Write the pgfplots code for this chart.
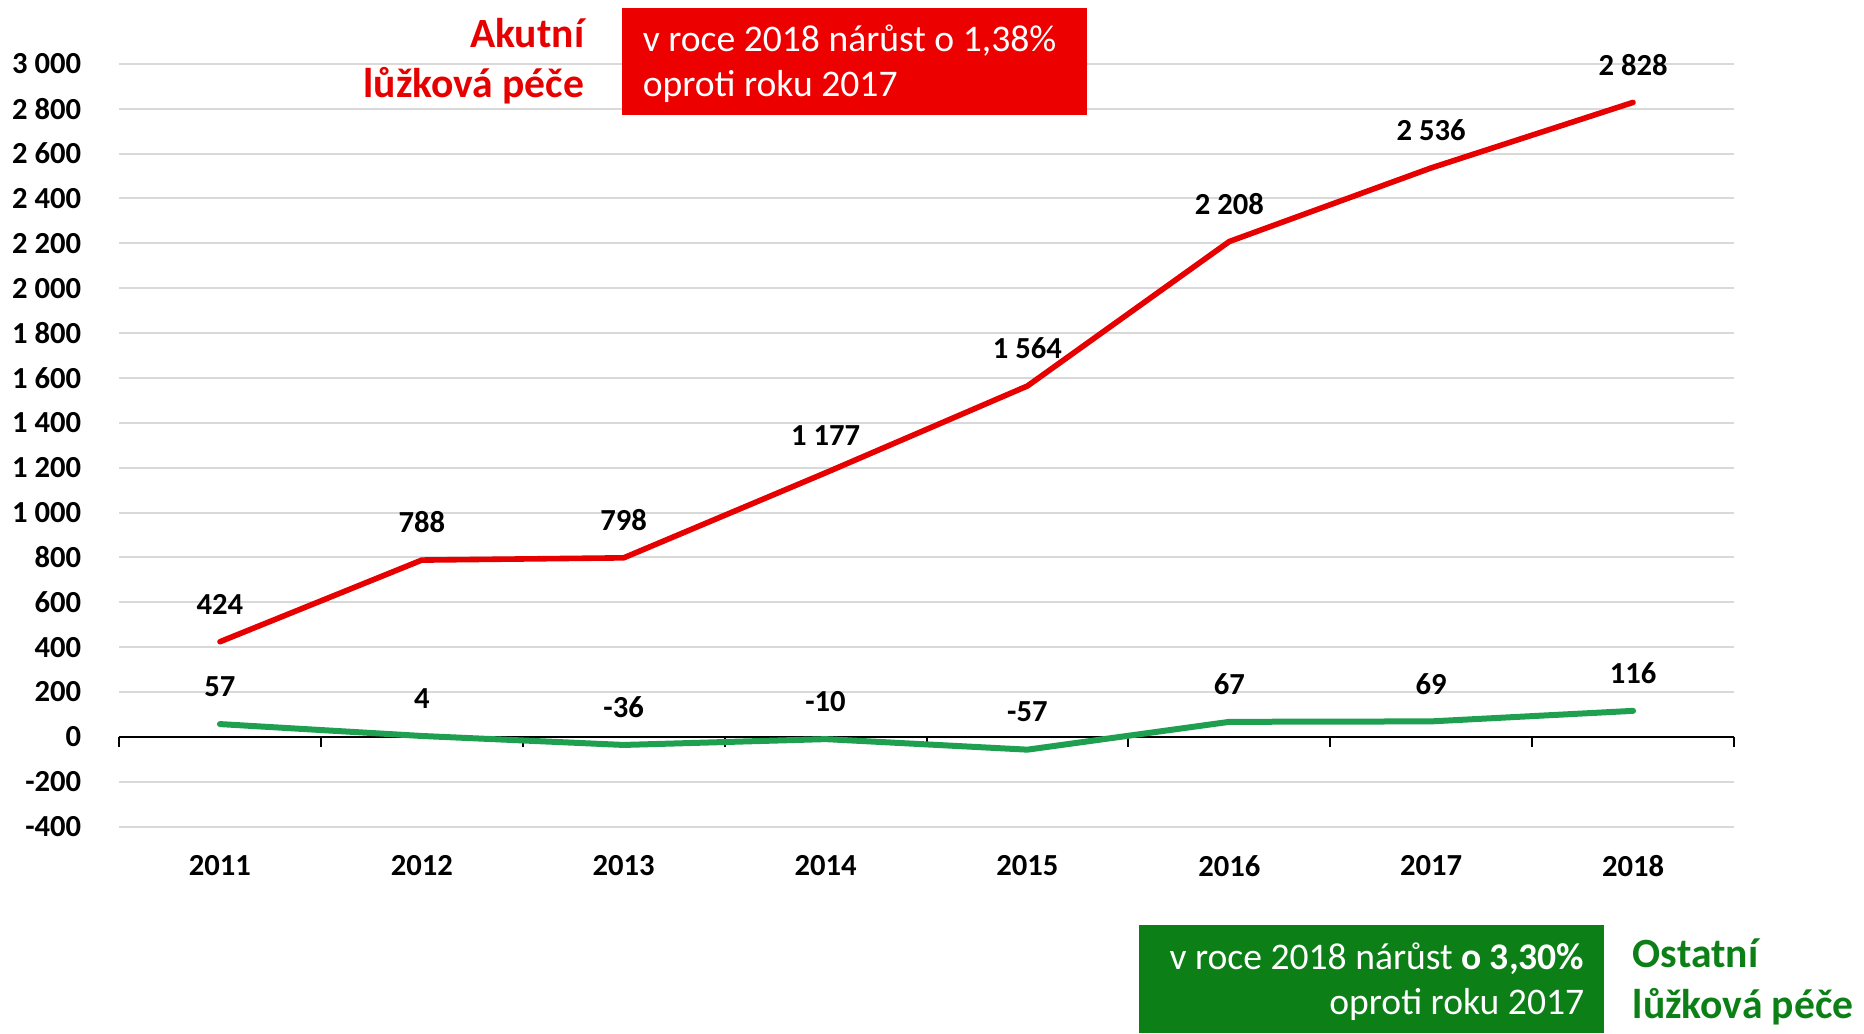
\documentclass[border=0pt]{standalone}
\usepackage{pgfplots}
\pgfplotsset{compat=1.18}
\usepackage{fontspec}
\setmainfont{Carlito}
\definecolor{myred}{RGB}{230,0,0}
\definecolor{boxred}{RGB}{237,0,0}
\definecolor{linegreen}{RGB}{30,160,80}
\definecolor{boxgreen}{RGB}{12,128,22}
\definecolor{titlegreen}{RGB}{12,128,22}
\definecolor{gridgray}{RGB}{217,217,217}
\newcommand\lab{\fontsize{7.65}{9}\selectfont\bfseries}
\begin{document}
\begin{tikzpicture}[x=1pt,y=1pt]
\useasboundingbox (0,0) rectangle (466,258.25);
\begin{axis}[
  at={(29.75pt,51.6pt)}, anchor=south west,
  width=403.75pt, height=190.7pt, scale only axis,
  xmin=-0.5, xmax=7.5, ymin=-400, ymax=3000,
  axis line style={draw=none},
  xtick={0,1,2,3,4,5,6,7},
  xticklabels={2011,2012,2013,2014,2015,2016,2017,2018},
  ytick={-400,-200,...,3000},
  yticklabels={-400,-200,0,200,400,600,800,1~000,1~200,1~400,1~600,1~800,2~000,2~200,2~400,2~600,2~800,3~000},
  tick style={draw=none},
  ymajorgrids, grid style={gridgray, line width=0.5pt},
  extra y ticks={0}, extra y tick labels={},
  extra y tick style={grid style={black, line width=0.6pt}},
  yticklabel style={anchor=east, inner sep=0pt, xshift=-9.25pt, font=\lab},
  xticklabel style={anchor=center, inner sep=0pt, yshift=-9.8pt, font=\lab},
  clip=false,
  nodes near coords, point meta=explicit symbolic,
  every node near coord/.append style={font=\lab, text=black, anchor=center, yshift=9.4pt, inner sep=0pt},
]
\pgfplotsinvokeforeach{-0.5,0.5,1.5,2.5,3.5,4.5,5.5,6.5,7.5}{
  \draw[black, line width=0.5pt] (axis cs:#1,0) -- ([yshift=-2.5pt]axis cs:#1,0);
}
\addplot[myred, line width=1.4pt, line join=round, line cap=round, mark=none]
  coordinates {(0,424) [424] (1,788) [788] (2,798) [798] (3,1177) [1~177]
               (4,1564) [1~564] (5,2208) [2~208] (6,2536) [2~536] (7,2828) [2~828]};
\addplot[linegreen, line width=1.5pt, line join=round, line cap=round, mark=none]
  coordinates {(0,57) [57] (1,4) [4] (2,-36) [-36] (3,-10) [-10]
               (4,-57) [-57] (5,67) [67] (6,69) [69] (7,116) [116]};
\end{axis}
% red annotation
\fill[boxred] (155.5,229.5) rectangle (271.75,256.25);
\node[anchor=base west, inner sep=0pt, text=white, font=\fontsize{9.4}{11}\selectfont] at (160.5,245.5) {v roce 2018 nárůst o 1,38\%};
\node[anchor=base west, inner sep=0pt, text=white, font=\fontsize{9.4}{11}\selectfont] at (160.5,234.25) {oproti roku 2017};
\node[anchor=base east, inner sep=0pt, text=myred, font=\fontsize{10.4}{12}\selectfont\bfseries] at (146.25,246.4) {Akutní};
\node[anchor=base east, inner sep=0pt, text=myred, font=\fontsize{10.4}{12}\selectfont\bfseries] at (146.25,233.9) {lůžková péče};
% green annotation
\fill[boxgreen] (284.75,0) rectangle (401,27);
\node[anchor=base east, inner sep=0pt, text=white, font=\fontsize{9.4}{11}\selectfont] at (396.25,16) {v roce 2018 nárůst \textbf{o 3,30\%}};
\node[anchor=base east, inner sep=0pt, text=white, font=\fontsize{9.4}{11}\selectfont] at (396.25,4.75) {oproti roku 2017};
\node[anchor=base west, inner sep=0pt, text=titlegreen, font=\fontsize{10.4}{12}\selectfont\bfseries] at (408,16.5) {Ostatní};
\node[anchor=base west, inner sep=0pt, text=titlegreen, font=\fontsize{10.4}{12}\selectfont\bfseries] at (408,3.75) {lůžková péče};
\end{tikzpicture}
\end{document}
